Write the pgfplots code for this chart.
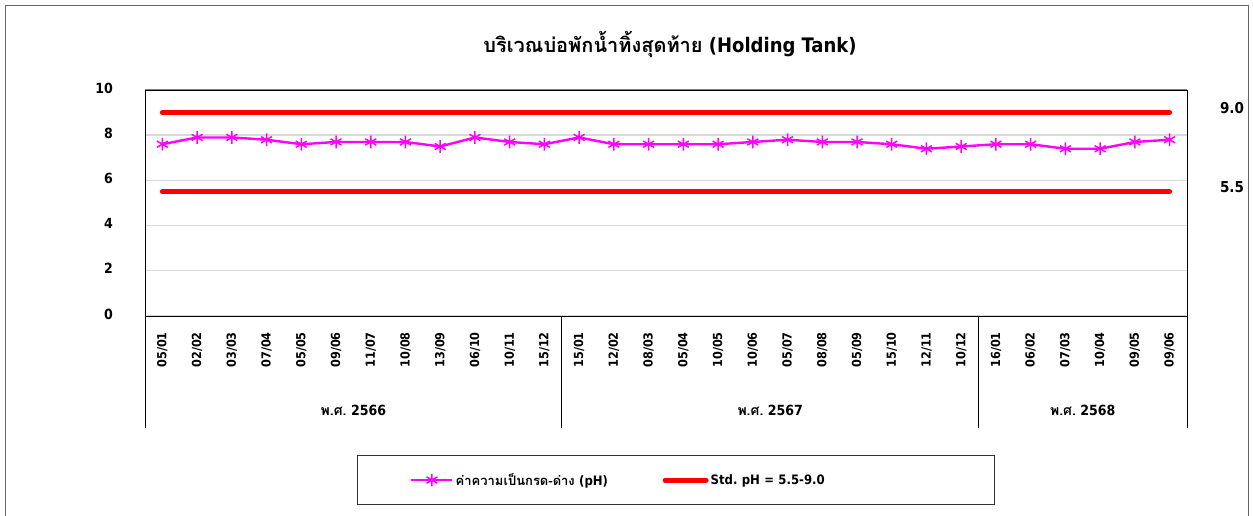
\documentclass[border=0pt]{standalone}
\usepackage{pgfplots}
\pgfplotsset{compat=1.18}
\usepackage{fontspec}
\setmainfont{DejaVu Sans Condensed}
\newfontfamily\thaifont[Script=Thai]{Loma}
\definecolor{mag}{HTML}{FF00FF}
\definecolor{stdred}{HTML}{FF0000}
\definecolor{gridc}{HTML}{D9D9D9}
\frenchspacing
\pgfplotstableread{
x y
0 7.6
1 7.9
2 7.9
3 7.8
4 7.6
5 7.7
6 7.7
7 7.7
8 7.5
9 7.9
10 7.7
11 7.6
12 7.9
13 7.6
14 7.6
15 7.6
16 7.6
17 7.7
18 7.8
19 7.7
20 7.7
21 7.6
22 7.4
23 7.5
24 7.6
25 7.6
26 7.4
27 7.4
28 7.7
29 7.8
}\phdata
\begin{document}
\begin{tikzpicture}
\useasboundingbox (0,0) rectangle (1253pt,516pt);
\draw[draw=black!60, line width=0.8pt] (5pt,0pt) -- (5pt,511pt) -- (1248pt,511pt) -- (1248pt,0pt);
\begin{axis}[
  at={(145pt,200pt)}, anchor=south west,
  width=1042pt, height=226pt, scale only axis,
  xmin=-0.5, xmax=29.5, ymin=0, ymax=10,
  ytick={0,2,4,6,8,10},
  xtick={0,...,29},
  xticklabels={05/01,02/02,03/03,07/04,05/05,09/06,11/07,10/08,13/09,06/10,10/11,15/12,15/01,12/02,08/03,05/04,10/05,10/06,05/07,08/08,05/09,15/10,12/11,10/12,16/01,06/02,07/03,10/04,09/05,09/06},
  /pgf/number format/assume math mode=true,
  ymajorgrids, grid style={draw=gridc, line width=1.4pt},
  axis line style={draw=black, line width=0.8pt},
  tick style={draw=none},
  xticklabel style={rotate=90, anchor=east, font=\fontsize{12.5}{12.5}\selectfont\bfseries, inner sep=0pt},
  xticklabel shift=16pt,
  yticklabel style={font=\fontsize{14}{14}\selectfont\bfseries, inner sep=0pt, yshift=2pt},
  yticklabel shift=32pt,
  clip=false,
  legend columns=2,
  legend cell align=left,
  legend style={at={(0.5096,-0.726)}, anchor=center, draw=black!80, line width=0.8pt,
    inner xsep=53pt, inner ysep=16pt, font=\fontsize{13}{17}\selectfont\bfseries},
  legend image code/.code={\draw[mark repeat=2,mark phase=2,#1] plot coordinates {(0pt,0pt) (20.5pt,0pt) (41pt,0pt)};},
]
\addplot[color=mag, line width=2.4pt, mark=asterisk, mark size=6.3pt, mark options={line width=1.5pt}] table[x=x,y=y]{\phdata};
\addlegendentry[text width=205pt]{{\thaifont\bfseries ค่าความเป็นกรด-ด่าง} (pH)}
\addplot[color=stdred, line width=5pt, line cap=round] coordinates {(0,9) (29,9)};
\addlegendentry[text width=229pt]{Std. pH = 5.5-9.0}
\addplot[color=stdred, line width=5pt, line cap=round, forget plot] coordinates {(0,5.5) (29,5.5)};
\draw[black, line width=0.8pt] (axis cs:-0.5,0) -- ([yshift=-112pt]axis cs:-0.5,0);
\draw[black, line width=0.8pt] (axis cs:11.5,0) -- ([yshift=-112pt]axis cs:11.5,0);
\draw[black, line width=0.8pt] (axis cs:23.5,0) -- ([yshift=-112pt]axis cs:23.5,0);
\draw[black, line width=0.8pt] (axis cs:29.5,0) -- ([yshift=-112pt]axis cs:29.5,0);
\draw[black!50, line width=1pt] (axis cs:-0.5,10) -- (axis cs:29.5,10);
\node[font=\fontsize{14}{14}\selectfont\bfseries] at (axis cs:5.5,0) [yshift=-94pt] {{\thaifont\bfseries พ.ศ.} 2566};
\node[font=\fontsize{14}{14}\selectfont\bfseries] at (axis cs:17.5,0) [yshift=-94pt] {{\thaifont\bfseries พ.ศ.} 2567};
\node[font=\fontsize{14}{14}\selectfont\bfseries] at (axis cs:26.5,0) [yshift=-94pt] {{\thaifont\bfseries พ.ศ.} 2568};
\node[font=\fontsize{15}{15}\selectfont\bfseries] at (axis cs:29.5,9) [xshift=45pt, yshift=5pt] {9.0};
\node[font=\fontsize{15}{15}\selectfont\bfseries] at (axis cs:29.5,5.5) [xshift=45pt, yshift=5pt] {5.5};
\end{axis}
\node[font=\fontsize{20}{20}\selectfont\bfseries] at (670pt,471pt) {{\thaifont\bfseries บริเวณบ่อพักน้ำทิ้งสุดท้าย} (Holding Tank)};
\end{tikzpicture}
\end{document}
